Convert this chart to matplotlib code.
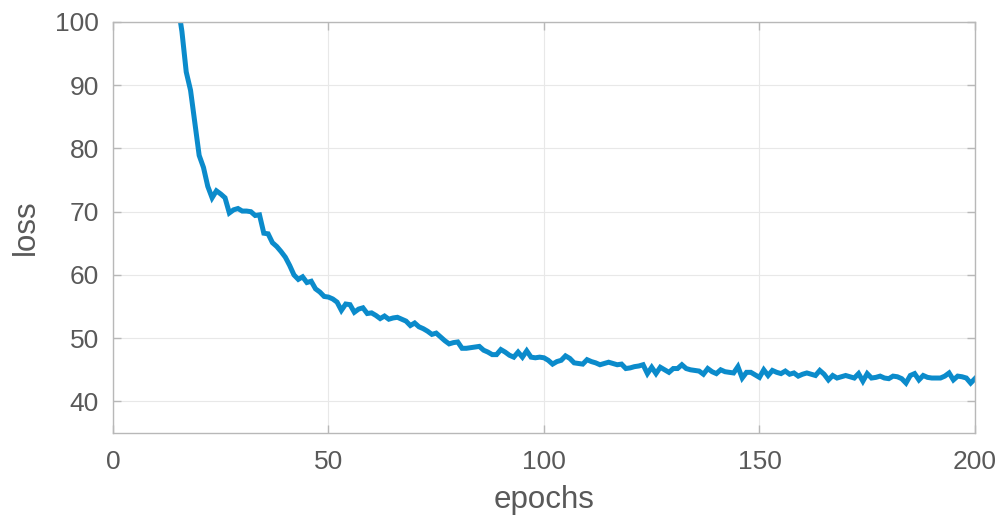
import matplotlib
matplotlib.use("Agg")
import matplotlib.pyplot as plt

# Training loss per epoch (epochs 1..200)
loss_early = [520, 410, 335, 280, 240, 205, 180, 160, 145, 133, 123, 116, 110, 106, 103]
loss_rest = [
    98.5, 92.1, 89.2, 84.0, 78.9, 77.0, 74.0, 72.2, 73.3, 72.8,
    72.2, 69.8, 70.3, 70.5, 70.1, 70.1, 70.0, 69.4, 69.5, 66.6,
    66.5, 65.1, 64.5, 63.7, 62.8, 61.5, 60.0, 59.3, 59.7, 58.8,
    59.0, 57.8, 57.3, 56.6, 56.5, 56.2, 55.7, 54.4, 55.4, 55.3,
    54.1, 54.6, 54.8, 53.9, 54.0, 53.6, 53.1, 53.5, 53.0, 53.2,
    53.3, 53.0, 52.7, 52.0, 52.4, 51.8, 51.5, 51.1, 50.6, 50.8,
    50.2, 49.6, 49.1, 49.3, 49.4, 48.4, 48.4, 48.5, 48.6, 48.7,
    48.1, 47.8, 47.4, 47.4, 48.2, 47.8, 47.3, 47.0, 47.8, 47.0,
    48.0, 47.0, 46.9, 47.0, 46.9, 46.5, 45.9, 46.3, 46.5, 47.2,
    46.8, 46.1, 46.0, 45.9, 46.6, 46.3, 46.1, 45.8, 46.0, 46.2,
    46.0, 45.8, 45.9, 45.2, 45.3, 45.5, 45.6, 45.8, 44.4, 45.4,
    44.4, 45.4, 45.0, 44.6, 45.2, 45.2, 45.8, 45.2, 45.0, 44.9,
    44.8, 44.3, 45.2, 44.7, 44.4, 45.0, 44.7, 44.6, 44.5, 45.5,
    43.7, 44.6, 44.6, 44.2, 43.8, 45.0, 44.1, 44.9, 44.6, 44.4,
    44.8, 44.3, 44.5, 44.0, 44.3, 44.5, 44.3, 44.1, 44.9, 44.3,
    43.4, 44.1, 43.7, 43.9, 44.1, 43.9, 43.7, 44.4, 43.2, 44.4,
    43.7, 43.8, 44.0, 43.7, 43.6, 44.0, 43.9, 43.6, 42.9, 44.1,
    44.4, 43.4, 44.1, 43.8, 43.7, 43.7, 43.7, 44.0, 44.5, 43.4,
    44.0, 43.9, 43.7, 42.9, 43.6,
]
loss = loss_early + loss_rest
epochs = list(range(1, len(loss) + 1))

x_ticks = [0, 50, 100, 150, 200]
y_ticks = [40, 50, 60, 70, 80, 90, 100]

plt.rcParams["font.family"] = ["Liberation Sans", "DejaVu Sans"]

text_color = "#595959"
spine_color = "#b8b8b8"

fig = plt.figure(figsize=(10.05, 5.23), dpi=100)
ax = fig.add_axes([0.1124, 0.172, 0.8577, 0.786])

ax.plot(epochs, loss, color="#0b8bcb", linewidth=3.6, solid_joinstyle="miter")

ax.set_xlim(0, 200)
ax.set_ylim(35, 100)
ax.set_xticks(x_ticks)
ax.set_yticks(y_ticks)

ax.grid(True, color="#e8e8e8", linewidth=0.8)
ax.set_axisbelow(True)

for side in ["left", "right", "top", "bottom"]:
    ax.spines[side].set_color(spine_color)
    ax.spines[side].set_linewidth(1.0)

ax.tick_params(axis="both", direction="in", length=6, width=1.0,
               color=spine_color, labelcolor=text_color, labelsize=19,
               top=True, right=True, pad=10)
ax.tick_params(axis="x", pad=12)

ax.set_xlabel("epochs", fontsize=22.5, color=text_color, labelpad=8)
ax.set_ylabel("loss", fontsize=22.5, color=text_color, labelpad=10)

fig.savefig("out.png", dpi=100)
